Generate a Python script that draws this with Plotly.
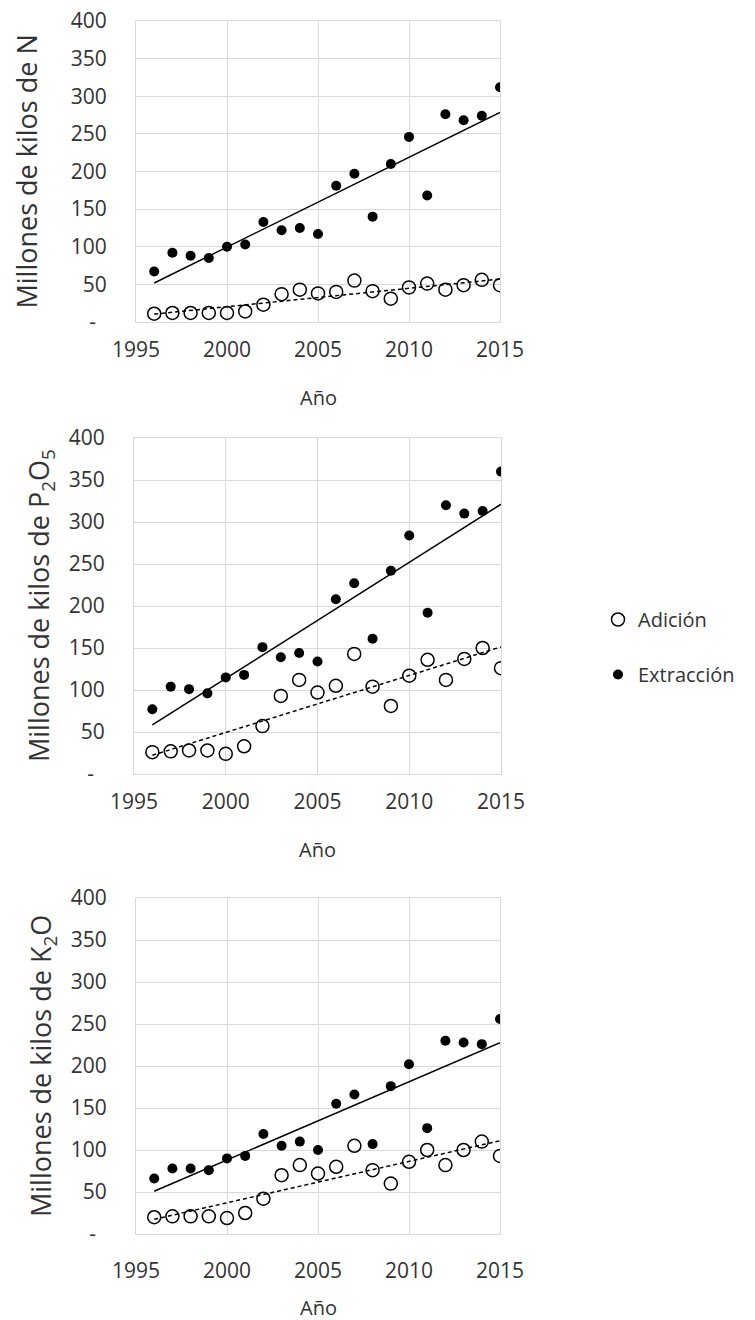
import numpy as np
import plotly.graph_objects as go

W, H = 755, 1320

years = list(range(1996, 2016))

# Panel 1: N
n_adicion = [11, 12, 12, 12, 12, 14, 23, 37, 43, 38, 40, 55, 41, 31, 46, 51, 43, 49, 56, 49]
n_extraccion = [67, 92, 88, 85, 100, 103, 133, 122, 125, 117, 181, 197, 140, 210, 246, 168, 276, 268, 274, 312]

# Panel 2: P2O5
p_adicion = [26, 27, 28, 28, 24, 33, 57, 93, 112, 97, 105, 143, 104, 81, 117, 136, 112, 137, 150, 126]
p_extraccion = [77, 104, 101, 96, 115, 118, 151, 139, 144, 134, 208, 227, 161, 242, 284, 192, 320, 310, 313, 360]

# Panel 3: K2O
k_adicion = [20, 21, 21, 21, 19, 25, 42, 70, 82, 72, 80, 105, 76, 60, 86, 100, 82, 100, 110, 93]
k_extraccion = [66, 78, 78, 76, 90, 93, 119, 105, 110, 100, 155, 166, 107, 176, 202, 126, 230, 228, 226, 256]

y_titles = ["Millones de kilos de N",
            "Millones de kilos de P<sub>2</sub>O<sub>5</sub>",
            "Millones de kilos de K<sub>2</sub>O"]
x_title = "Año"
legend_names = ["Adición", "Extracción"]
y_tickvals = [0, 50, 100, 150, 200, 250, 300, 350, 400]
y_ticktext = ["-\u00a0\u00a0", "50", "100", "150", "200", "250", "300", "350", "400"]
x_tickvals = [1995, 2000, 2005, 2010, 2015]

FONT = "Open Sans"
TXT = "#333333"
GRID = "#d9d9d9"

panels = [
    dict(ad=n_adicion, ex=n_extraccion, x0=136, x1=500, top=21, bot=322, ytitle_x=26, xlab_y=397, xstand=9),
    dict(ad=p_adicion, ex=p_extraccion, x0=134, x1=501, top=438, bot=774, ytitle_x=40, xlab_y=849, xstand=9),
    dict(ad=k_adicion, ex=k_extraccion, x0=136, x1=500, top=898, bot=1234, ytitle_x=42, xlab_y=1307, xstand=18),
]

fig = go.Figure()
yrs = np.array(years, dtype=float)

for i, p in enumerate(panels, start=1):
    xa = "x" if i == 1 else f"x{i}"
    ya = "y" if i == 1 else f"y{i}"
    # trend lines (least squares fits of the data)
    ce = np.polyfit(yrs, np.array(p["ex"], dtype=float), 1)
    ca = np.polyfit(yrs, np.array(p["ad"], dtype=float), 1)
    ends = np.array([years[0], years[-1]], dtype=float)
    fig.add_trace(go.Scatter(x=[years[0], years[-1]], y=list(np.polyval(ca, ends)), mode="lines",
                             line=dict(color="black", width=1.5, dash="4px,3px"),
                             showlegend=False, hoverinfo="skip", xaxis=xa, yaxis=ya))
    fig.add_trace(go.Scatter(x=years, y=p["ad"], mode="markers", name=legend_names[0],
                             marker=dict(symbol="circle-open", size=13, color="black", line=dict(width=1.5)),
                             legendgroup="a", showlegend=(i == 1), xaxis=xa, yaxis=ya))
    fig.add_trace(go.Scatter(x=years, y=p["ex"], mode="markers", name=legend_names[1],
                             marker=dict(symbol="circle", size=10, color="black"),
                             legendgroup="e", showlegend=(i == 1), xaxis=xa, yaxis=ya))
    fig.add_trace(go.Scatter(x=[years[0], years[-1]], y=list(np.polyval(ce, ends)), mode="lines",
                             line=dict(color="black", width=1.5),
                             showlegend=False, hoverinfo="skip", xaxis=xa, yaxis=ya))

    common = dict(showgrid=True, gridcolor=GRID, gridwidth=1, showline=True, linecolor=GRID,
                  linewidth=1, mirror=True, zeroline=False, automargin=False, fixedrange=True,
                  tickfont=dict(family=FONT, size=21, color=TXT))
    fig.layout[f"xaxis{'' if i == 1 else i}"] = dict(
        domain=[p["x0"] / W, p["x1"] / W], range=[1995, 2015], tickvals=x_tickvals,
        anchor=ya, ticklabelstandoff=p["xstand"], **common)
    fig.layout[f"yaxis{'' if i == 1 else i}"] = dict(
        domain=[1 - p["bot"] / H, 1 - p["top"] / H], range=[0, 400], tickvals=y_tickvals,
        ticktext=y_ticktext, anchor=xa, ticklabelstandoff=24, **common)

    fig.add_annotation(text=y_titles[i - 1], textangle=-90, x=p["ytitle_x"] / W,
                       y=1 - (p["top"] + p["bot"]) / 2 / H, xref="paper", yref="paper",
                       showarrow=False, xanchor="center", yanchor="middle",
                       font=dict(family=FONT, size=27, color=TXT))
    fig.add_annotation(text=x_title, x=(p["x0"] + p["x1"]) / 2 / W, y=1 - p["xlab_y"] / H,
                       xref="paper", yref="paper", showarrow=False, xanchor="center",
                       yanchor="middle", font=dict(family=FONT, size=20, color=TXT))

fig.update_layout(
    width=W, height=H, margin=dict(l=0, r=0, t=0, b=0, pad=0),
    paper_bgcolor="white", plot_bgcolor="white",
    font=dict(family=FONT, color=TXT),
    legend=dict(x=598 / W, y=1 - 600 / H, xanchor="left", yanchor="top",
                font=dict(family=FONT, size=20, color=TXT), traceorder="grouped",
                tracegroupgap=26, itemwidth=30, bgcolor="rgba(0,0,0,0)"),
)

fig.write_html("out.html")
